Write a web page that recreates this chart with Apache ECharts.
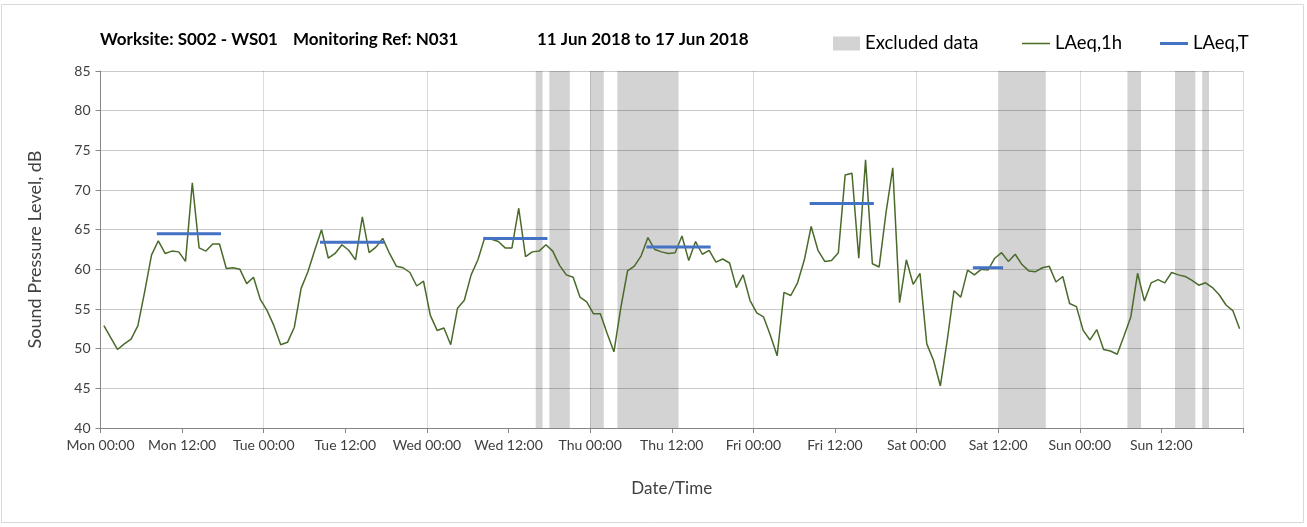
<!DOCTYPE html>
<html>
<head>
<meta charset="utf-8">
<script src="https://cdn.jsdelivr.net/npm/echarts@6/dist/echarts.min.js"></script>
<style>
  html, body { margin: 0; padding: 0; background: #fff; }
  #chart { width: 1307px; height: 527px; }
</style>
</head>
<body>
<div id="chart"></div>
<script>
// hourly LAeq,1h per day (one value per hour, plotted at the middle of the hour)
const dayNames = ['Mon', 'Tue', 'Wed', 'Thu', 'Fri', 'Sat', 'Sun'];
const monLevels = [52.9, 51.4, 49.9, 50.6, 51.2, 52.9, 57.2, 61.8, 63.6, 62.0, 62.3, 62.2, 61.0, 70.9, 62.7, 62.3, 63.2, 63.2, 60.1, 60.2, 60.0, 58.2, 59.0, 56.2];
const tueLevels = [54.8, 52.9, 50.5, 50.8, 52.7, 57.6, 59.7, 62.4, 65.0, 61.4, 62.0, 63.1, 62.4, 61.2, 66.6, 62.1, 62.8, 63.9, 62.0, 60.4, 60.2, 59.6, 57.9, 58.5];
const wedLevels = [54.2, 52.3, 52.6, 50.5, 55.1, 56.1, 59.3, 61.2, 64.0, 63.8, 63.5, 62.7, 62.7, 67.7, 61.6, 62.2, 62.3, 63.1, 62.3, 60.5, 59.3, 59.0, 56.5, 55.9];
const thuLevels = [54.4, 54.4, 51.9, 49.6, 55.1, 59.8, 60.4, 61.7, 64.0, 62.5, 62.2, 62.0, 62.1, 64.2, 61.1, 63.5, 61.9, 62.4, 60.9, 61.3, 60.8, 57.7, 59.3, 56.1];
const friLevels = [54.5, 54.0, 51.7, 49.1, 57.1, 56.7, 58.3, 61.2, 65.4, 62.4, 61.0, 61.1, 62.1, 71.9, 72.1, 61.4, 73.8, 60.7, 60.3, 67.1, 72.8, 55.8, 61.2, 58.1];
const satLevels = [59.5, 50.6, 48.5, 45.3, 51.0, 57.3, 56.5, 59.9, 59.3, 60.0, 59.9, 61.4, 62.1, 61.0, 61.9, 60.6, 59.8, 59.7, 60.2, 60.4, 58.4, 59.1, 55.7, 55.3];
const sunLevels = [52.3, 51.1, 52.4, 49.9, 49.7, 49.3, 51.6, 54.0, 59.5, 56.0, 58.3, 58.7, 58.3, 59.6, 59.3, 59.1, 58.6, 58.0, 58.3, 57.7, 56.8, 55.5, 54.8, 52.5];

// LAeq,T periods (hours from Mon 00:00) and values
const laeqTStart = [8.5, 32.5, 56.5, 80.5, 104.5, 128.5];
const laeqTEnd = [17.5, 41.5, 65.5, 89.5, 113.5, 132.5];
const laeqTValue = [64.5, 63.4, 63.9, 62.8, 68.3, 60.2];

// excluded data periods (hours from Mon 00:00)
const excludedStart = [64, 66, 72, 76, 132, 151, 158, 162];
const excludedEnd = [65, 69, 74, 85, 139, 153, 161, 163];

const font = 'Lato, "Noto Sans", sans-serif';

let allDays = [monLevels, tueLevels, wedLevels, thuLevels, friLevels, satLevels, sunLevels];
let hourly = [];
allDays.forEach(function (day, d) {
  day.forEach(function (v, h) {
    hourly.push([d * 24 + h + 0.5, v]);
  });
});

let periodLine = [];
for (let i = 0; i < laeqTValue.length; i++) {
  periodLine.push([laeqTStart[i], laeqTValue[i]]);
  periodLine.push([laeqTEnd[i], laeqTValue[i]]);
  periodLine.push([laeqTEnd[i], '-']);
}

let bands = [];
for (let i = 0; i < excludedStart.length; i++) {
  bands.push([{xAxis: excludedStart[i]}, {xAxis: excludedEnd[i]}]);
}

let chart = echarts.init(document.getElementById('chart'));
let titleStyle = {fontFamily: font, fontSize: 17, fontWeight: 'bold', color: '#000'};
let legendText = {fontFamily: font, fontSize: 18.5, color: '#000'};

let option = {
  animation: false,
  backgroundColor: '#fff',
  graphic: [{
    type: 'rect',
    shape: {x: 1.5, y: 4.5, width: 1302, height: 518},
    style: {fill: 'none', stroke: '#d9d9d9', lineWidth: 1},
    silent: true
  }],
  title: [
    {text: 'Worksite: S002 - WS01', left: 100, top: 31, padding: 0, textStyle: titleStyle},
    {text: 'Monitoring Ref: N031', left: 293, top: 31, padding: 0, textStyle: titleStyle},
    {text: '11 Jun 2018 to 17 Jun 2018', left: 537, top: 31, padding: 0, textStyle: titleStyle}
  ],
  legend: [
    {data: [{name: 'Excluded data', icon: 'rect'}], left: 833, top: 34, padding: 0, itemWidth: 27, itemHeight: 14, textStyle: legendText, selectedMode: false},
    {data: [{name: 'LAeq,1h', icon: 'rect'}], left: 1022, top: 34, padding: 0, itemWidth: 28, itemHeight: 1.5, textStyle: legendText, selectedMode: false},
    {data: [{name: 'LAeq,T', icon: 'rect'}], left: 1160, top: 34, padding: 0, itemWidth: 28, itemHeight: 3, textStyle: legendText, selectedMode: false}
  ],
  grid: {left: 100.5, right: 64, top: 71, bottom: 99},
  xAxis: [
    {
      type: 'value',
      min: 0,
      max: 168,
      interval: 12,
      z: 5,
      name: 'Date/Time',
      nameLocation: 'middle',
      nameGap: 52,
      nameTextStyle: {fontFamily: font, fontSize: 17, color: '#404040'},
      axisLine: {lineStyle: {color: '#868686'}},
      axisTick: {show: true, length: 5, lineStyle: {color: '#868686'}},
      splitLine: {show: false},
      axisLabel: {
        fontFamily: font,
        fontSize: 14,
        color: '#404040',
        margin: 10,
        formatter: function (v) {
          if (v >= 168) return '';
          let d = Math.floor(v / 24);
          let h = v % 24;
          return dayNames[d] + ' ' + (h < 10 ? '0' + h : h) + ':00';
        }
      }
    },
    {
      type: 'value',
      min: 0,
      max: 168,
      interval: 24,
      position: 'bottom',
      z: 5,
      axisLine: {show: false},
      axisTick: {show: false},
      axisLabel: {show: false},
      splitLine: {show: true, lineStyle: {color: 'rgba(0,0,0,0.14)'}}
    }
  ],
  yAxis: {
    type: 'value',
    min: 40,
    max: 85,
    interval: 5,
    z: 5,
    name: 'Sound Pressure Level, dB',
    nameLocation: 'middle',
    nameGap: 56,
    nameTextStyle: {fontFamily: font, fontSize: 18, color: '#404040'},
    axisLine: {show: true, lineStyle: {color: '#868686'}},
    axisTick: {show: true, length: 5, lineStyle: {color: '#868686'}},
    axisLabel: {fontFamily: font, fontSize: 14, color: '#404040', margin: 10},
    splitLine: {lineStyle: {color: 'rgba(0,0,0,0.21)'}}
  },
  series: [
    {
      name: 'Excluded data',
      type: 'line',
      data: [],
      z: 1,
      silent: true,
      itemStyle: {color: '#d3d3d3'},
      markArea: {
        silent: true,
        z: 1,
        itemStyle: {color: '#d3d3d3', opacity: 1},
        data: bands
      }
    },
    {
      name: 'LAeq,1h',
      type: 'line',
      data: hourly,
      symbol: 'none',
      z: 10,
      itemStyle: {color: '#4a6a2a'},
      lineStyle: {color: '#4a6a2a', width: 1.5}
    },
    {
      name: 'LAeq,T',
      type: 'line',
      data: periodLine,
      symbol: 'none',
      z: 11,
      connectNulls: false,
      itemStyle: {color: '#4472c4'},
      lineStyle: {color: '#4472c4', width: 3, cap: 'square'}
    }
  ]
};

chart.setOption(option);
</script>
</body>
</html>
